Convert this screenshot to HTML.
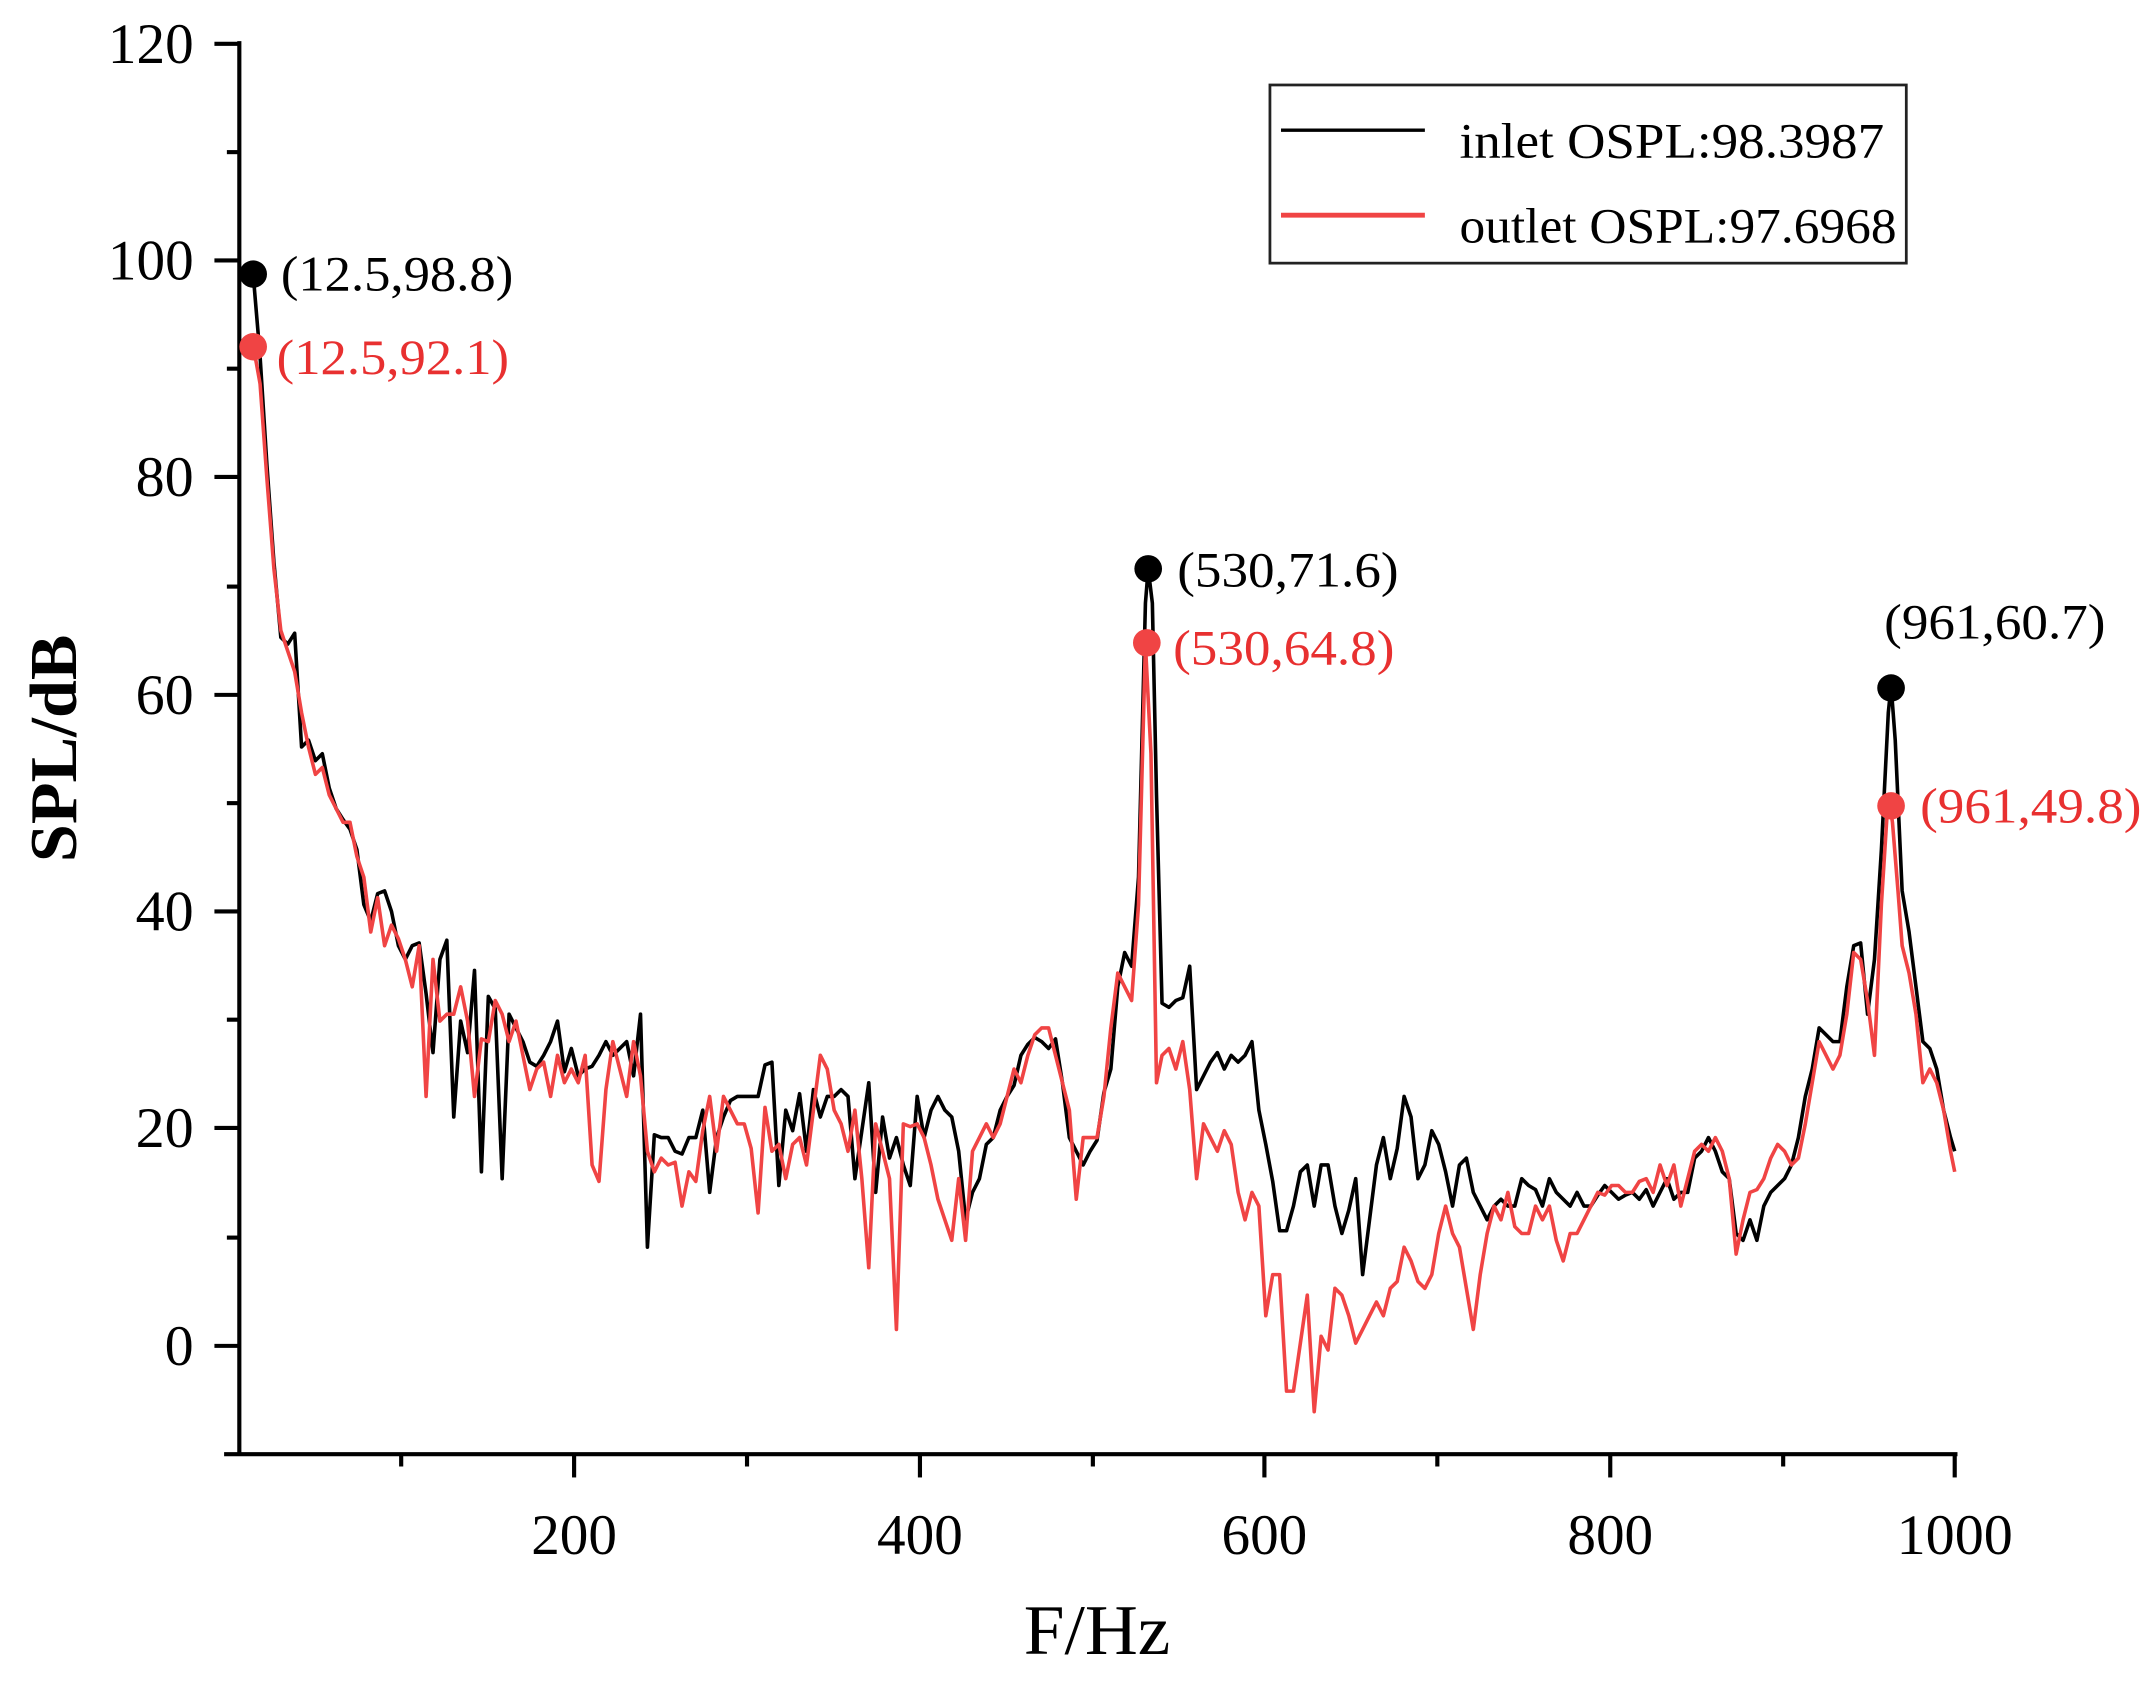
<!DOCTYPE html>
<html><head><meta charset="utf-8"><style>
html,body{margin:0;padding:0;background:#fff;}
svg{display:block;}
text{font-family:"Liberation Serif",serif;}
</style></head><body>
<svg width="2147" height="1694" viewBox="0 0 1552 1236" preserveAspectRatio="none" xmlns="http://www.w3.org/2000/svg">
<g stroke="#000" stroke-width="3" fill="none">
<line x1="173" y1="30" x2="173" y2="1061"/>
<line x1="162" y1="1061" x2="1415" y2="1061"/>
<line x1="155" y1="32" x2="173" y2="32"/>
<line x1="155" y1="190" x2="173" y2="190"/>
<line x1="155" y1="348" x2="173" y2="348"/>
<line x1="155" y1="507" x2="173" y2="507"/>
<line x1="155" y1="665" x2="173" y2="665"/>
<line x1="155" y1="823" x2="173" y2="823"/>
<line x1="155" y1="982" x2="173" y2="982"/>
<line x1="164" y1="111" x2="173" y2="111"/>
<line x1="164" y1="269" x2="173" y2="269"/>
<line x1="164" y1="428" x2="173" y2="428"/>
<line x1="164" y1="586" x2="173" y2="586"/>
<line x1="164" y1="744" x2="173" y2="744"/>
<line x1="164" y1="903" x2="173" y2="903"/>
<line x1="415" y1="1061" x2="415" y2="1078"/>
<line x1="665" y1="1061" x2="665" y2="1078"/>
<line x1="914" y1="1061" x2="914" y2="1078"/>
<line x1="1164" y1="1061" x2="1164" y2="1078"/>
<line x1="1413" y1="1061" x2="1413" y2="1078"/>
<line x1="290" y1="1061" x2="290" y2="1070"/>
<line x1="540" y1="1061" x2="540" y2="1070"/>
<line x1="790" y1="1061" x2="790" y2="1070"/>
<line x1="1039" y1="1061" x2="1039" y2="1070"/>
<line x1="1289" y1="1061" x2="1289" y2="1070"/>
</g>
<g font-size="42" fill="#000" text-anchor="end">
<text x="140" y="46" textLength="62" lengthAdjust="spacingAndGlyphs">120</text>
<text x="140" y="204" textLength="62" lengthAdjust="spacingAndGlyphs">100</text>
<text x="140" y="362" textLength="42" lengthAdjust="spacingAndGlyphs">80</text>
<text x="140" y="521" textLength="42" lengthAdjust="spacingAndGlyphs">60</text>
<text x="140" y="679" textLength="42" lengthAdjust="spacingAndGlyphs">40</text>
<text x="140" y="837" textLength="42" lengthAdjust="spacingAndGlyphs">20</text>
<text x="140" y="996" textLength="21" lengthAdjust="spacingAndGlyphs">0</text>
</g>
<g font-size="42" fill="#000" text-anchor="middle">
<text x="415" y="1134" textLength="62" lengthAdjust="spacingAndGlyphs">200</text>
<text x="665" y="1134" textLength="62" lengthAdjust="spacingAndGlyphs">400</text>
<text x="914" y="1134" textLength="62" lengthAdjust="spacingAndGlyphs">600</text>
<text x="1164" y="1134" textLength="62" lengthAdjust="spacingAndGlyphs">800</text>
<text x="1413" y="1134" textLength="84" lengthAdjust="spacingAndGlyphs">1000</text>
</g>
<text x="793" y="1207" font-size="52" text-anchor="middle" textLength="106" lengthAdjust="spacingAndGlyphs">F/Hz</text>
<text transform="translate(55,546) rotate(-90)" font-size="48" font-weight="bold" text-anchor="middle" textLength="166" lengthAdjust="spacingAndGlyphs">SPL/dB</text>

<polyline fill="none" stroke="#000" stroke-width="2.6" stroke-linejoin="round" points="183,200 188,260 193,340 198,410 203,465 208,470 213,462 218,545 223,540 228,555 233,550 238,575 243,590 248,598 253,605 258,620 263,660 268,672 273,652 278,650 283,665 288,690 293,700 298,690 303,688 308,725 313,768 318,700 323,686 328,815 333,745 338,768 343,708 348,855 353,727 358,736 363,860 368,740 373,750 378,760 383,775 388,778 393,770 398,760 403,745 408,782 413,765 418,785 423,780 428,778 433,770 438,760 443,770 448,765 453,760 458,785 463,740 468,910 473,828 478,830 483,830 488,840 493,842 498,830 503,830 508,810 513,870 518,830 523,815 528,803 533,800 538,800 543,800 548,800 553,777 558,775 563,865 568,810 573,825 578,798 583,840 588,795 593,815 598,800 603,800 608,795 613,800 618,860 623,825 628,790 633,870 638,815 643,845 648,830 653,850 658,865 663,800 668,830 673,810 678,800 683,810 688,815 693,840 698,890 703,870 708,860 713,835 718,830 723,810 728,800 733,792 738,770 743,762 748,757 753,760 758,765 763,758 768,790 773,830 778,840 783,850 788,840 793,832 798,797 803,780 808,720 813,695 818,705 823,640 828,440 830,415 833,440 836,580 840,732 845,735 850,730 855,728 860,705 865,795 870,785 875,775 880,768 885,780 890,770 895,775 900,770 905,760 910,810 915,835 920,862 925,898 930,898 935,880 940,855 945,850 950,880 955,850 960,850 965,880 970,900 975,883 980,860 985,930 990,890 995,850 1000,830 1005,860 1010,838 1015,800 1020,815 1025,860 1030,850 1035,825 1040,835 1045,855 1050,880 1055,850 1060,845 1065,870 1070,880 1075,890 1080,880 1085,875 1090,880 1095,880 1100,860 1105,865 1110,868 1115,880 1120,860 1125,870 1130,875 1135,880 1140,870 1145,880 1150,880 1155,872 1160,865 1165,870 1170,875 1175,872 1180,870 1185,875 1190,868 1195,880 1200,870 1205,860 1210,875 1215,870 1220,870 1225,845 1230,840 1235,830 1240,840 1245,855 1250,860 1255,900 1260,905 1265,890 1270,905 1275,880 1280,870 1285,865 1290,860 1295,850 1300,830 1305,800 1310,780 1315,750 1320,755 1325,760 1330,760 1335,720 1340,690 1345,688 1350,740 1355,700 1360,620 1365,520 1367,500 1370,540 1375,650 1380,680 1385,720 1390,760 1395,765 1400,780 1405,810 1410,830 1413,840"/>

<polyline fill="none" stroke="#f04444" stroke-width="2.6" stroke-linejoin="round" points="183,252 188,280 193,350 198,415 203,460 208,475 213,490 218,520 223,545 228,565 233,560 238,580 243,590 248,600 253,600 258,625 263,640 268,680 273,655 278,690 283,675 288,685 293,700 298,720 303,690 308,800 313,700 318,745 323,740 328,740 333,720 338,745 343,800 348,758 353,760 358,730 363,740 368,760 373,745 378,770 383,795 388,780 393,775 398,800 403,770 408,790 413,780 418,790 423,770 428,850 433,862 438,795 443,760 448,780 453,800 458,760 463,785 468,840 473,855 478,845 483,850 488,848 493,880 498,855 503,862 508,825 513,800 518,840 523,800 528,810 533,820 538,820 543,838 548,885 553,808 558,840 563,835 568,860 573,835 578,830 583,850 588,810 593,770 598,780 603,810 608,820 613,840 618,810 623,860 628,925 633,820 638,840 643,860 648,970 653,820 658,822 663,820 668,830 673,850 678,875 683,890 688,905 693,860 698,905 703,840 708,830 713,820 718,830 723,820 728,800 733,780 738,790 743,770 748,755 753,750 758,750 763,770 768,790 773,810 778,875 783,830 788,830 793,830 798,800 803,750 808,710 813,720 818,730 823,660 828,470 832,550 836,790 840,770 845,765 850,780 855,760 860,795 865,860 870,820 875,830 880,840 885,825 890,835 895,870 900,890 905,870 910,880 915,960 920,930 925,930 930,1015 935,1015 940,980 945,945 950,1030 955,975 960,985 965,940 970,945 975,960 980,980 985,970 990,960 995,950 1000,960 1005,940 1010,935 1015,910 1020,920 1025,935 1030,940 1035,930 1040,900 1045,880 1050,900 1055,910 1060,940 1065,970 1070,930 1075,900 1080,880 1085,890 1090,870 1095,895 1100,900 1105,900 1110,880 1115,890 1120,880 1125,905 1130,920 1135,900 1140,900 1145,890 1150,880 1155,870 1160,872 1165,865 1170,865 1175,870 1180,870 1185,862 1190,860 1195,870 1200,850 1205,865 1210,850 1215,880 1220,860 1225,840 1230,835 1235,840 1240,830 1245,840 1250,860 1255,915 1260,890 1265,870 1270,868 1275,860 1280,845 1285,835 1290,840 1295,850 1300,845 1305,820 1310,790 1315,760 1320,770 1325,780 1330,770 1335,740 1340,695 1345,700 1350,730 1355,770 1360,660 1365,580 1368,600 1372,650 1375,690 1380,710 1385,740 1390,790 1395,780 1400,790 1405,810 1410,840 1413,855"/>

<circle cx="183" cy="200" r="10" fill="#000"/>
<circle cx="183" cy="253" r="10" fill="#f04444"/>
<circle cx="830" cy="415" r="10" fill="#000"/>
<circle cx="829" cy="469" r="10" fill="#f04444"/>
<circle cx="1367" cy="502" r="10" fill="#000"/>
<circle cx="1367" cy="588" r="10" fill="#f04444"/>

<g font-size="36">
<text x="203" y="212" fill="#000" textLength="168" lengthAdjust="spacingAndGlyphs">(12.5,98.8)</text>
<text x="200" y="273" fill="#e83030" textLength="168" lengthAdjust="spacingAndGlyphs">(12.5,92.1)</text>
<text x="851" y="428" fill="#000" textLength="160" lengthAdjust="spacingAndGlyphs">(530,71.6)</text>
<text x="848" y="485" fill="#e83030" textLength="160" lengthAdjust="spacingAndGlyphs">(530,64.8)</text>
<text x="1362" y="466" fill="#000" textLength="160" lengthAdjust="spacingAndGlyphs">(961,60.7)</text>
<text x="1388" y="600" fill="#e83030" textLength="160" lengthAdjust="spacingAndGlyphs">(961,49.8)</text>
</g>

<rect x="918" y="62" width="460" height="130" fill="#fff" stroke="#222" stroke-width="2"/>
<line x1="926" y1="95" x2="1030" y2="95" stroke="#000" stroke-width="2.5"/>
<line x1="926" y1="157" x2="1030" y2="157" stroke="#f04444" stroke-width="3.5"/>
<g font-size="36" fill="#000">
<text x="1055" y="115" textLength="307" lengthAdjust="spacingAndGlyphs">inlet  OSPL:98.3987</text>
<text x="1055" y="177" textLength="316" lengthAdjust="spacingAndGlyphs">outlet OSPL:97.6968</text>
</g>
</svg>
</body></html>
